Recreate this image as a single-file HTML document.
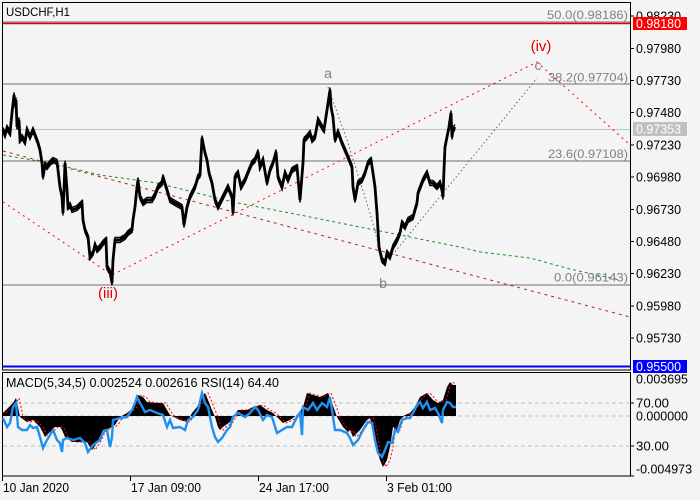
<!DOCTYPE html>
<html><head><meta charset="utf-8"><style>
html,body{margin:0;padding:0;background:#f4f4f4;}
svg{display:block;}
text{font-family:"Liberation Sans",sans-serif;}
</style></head><body>
<svg width="700" height="500" viewBox="0 0 700 500" xmlns="http://www.w3.org/2000/svg">
<defs>
<polyline id="pr" fill="none" stroke-linejoin="miter" points="3,130 5,135 7,128 10,133 12,113 14,95 15,105 16,100 17,127 19,120 20,140 22,137 25,142 27,130 30,137 33,130 35,135 38,143 40,150 42,163 43,177 45,165 47,167 50,163 53,160 57,162 58,170 60,187 62,197 63,213 64,190 65,163 67,190 68,207 70,205 72,210 77,208 80,205 82,203 83,220 85,230 88,237 90,257 93,253 95,245 97,250 100,247 103,243 106,240 107,267 110,272 112,283 113,260 115,240 120,240 125,237 128,233 132,230 133,220 135,207 137,187 138,180 140,197 143,203 147,200 152,200 155,195 158,187 162,183 163,177 167,190 170,200 175,203 182,207 184,225 187,207 190,197 195,187 198,177 200,175 202,138 205,153 207,160 209,173 212,183 215,200 218,207 223,197 228,187 232,197 233,213 235,177 238,173 241,187 245,180 249,170 252,163 255,160 258,152 260,167 263,160 267,183 270,170 273,163 276,152 278,177 282,187 285,173 288,180 292,170 297,167 300,200 303,163 304,140 307,137 310,133 312,140 315,137 318,120 322,127 324,130 327,110 330,90 331,107 333,117 335,140 338,132 342,143 345,150 348,157 352,167 353,187 355,200 358,183 362,180 365,173 368,163 371,160 373,173 375,187 377,213 379,247 382,260 385,263 387,253 390,257 393,247 397,240 400,233 402,223 405,227 408,220 413,217 417,203 418,193 423,180 427,173 430,183 433,183 437,187 440,183 442,190 443,197 444,170 445,147 447,137 449,127 451,113 452,137 453,130 455,127"/>
</defs>
<rect x="0" y="0" width="700" height="500" fill="#f4f4f4"/>
<rect x="2.5" y="2.5" width="628" height="367.5" fill="none" stroke="#000" stroke-width="1"/>
<rect x="2.5" y="372.5" width="628" height="103.5" fill="none" stroke="#000" stroke-width="1"/>

<line x1="3" y1="22" x2="630" y2="22" stroke="#707070" stroke-width="1"/>
<line x1="3" y1="23.5" x2="630" y2="23.5" stroke="#e00000" stroke-width="1.5"/>
<line x1="3" y1="84" x2="630" y2="84" stroke="#707070" stroke-width="1"/>
<line x1="3" y1="129.5" x2="630" y2="129.5" stroke="#c0c0c0" stroke-width="1"/>
<line x1="3" y1="161" x2="630" y2="161" stroke="#707070" stroke-width="1"/>
<line x1="3" y1="285" x2="630" y2="285" stroke="#707070" stroke-width="1"/>
<line x1="3" y1="366.5" x2="630" y2="366.5" stroke="#0000f0" stroke-width="2"/>

<text x="628" y="19" font-size="12" fill="#808080" text-anchor="end" textLength="81" lengthAdjust="spacingAndGlyphs">50.0(0.98186)</text>
<text x="628" y="81.5" font-size="12" fill="#808080" text-anchor="end" textLength="80" lengthAdjust="spacingAndGlyphs">38.2(0.97704)</text>
<text x="628" y="158" font-size="12" fill="#808080" text-anchor="end" textLength="80" lengthAdjust="spacingAndGlyphs">23.6(0.97108)</text>
<text x="628" y="281.5" font-size="12" fill="#808080" text-anchor="end" textLength="74" lengthAdjust="spacingAndGlyphs">0.0(0.96143)</text>

<polyline points="3,202 112,275 537,62 630,145" fill="none" stroke="#ff0000" stroke-width="1" stroke-dasharray="2,4"/>
<line x1="3" y1="151" x2="630" y2="317" stroke="#b22222" stroke-width="1" stroke-dasharray="3,4"/>
<polyline points="3,155 50,163 100,175 157,183 233,202 300,215 310,217 460,247 480,252 530,258 570,269 620,280" fill="none" stroke="#228b22" stroke-width="1" stroke-dasharray="3,3"/>
<polyline points="328,87 347,140 370,213 380,250 385,262" fill="none" stroke="#606060" stroke-width="1" stroke-dasharray="1.5,2.5"/>
<polyline points="390,258 407,237 443,193 480,148 537,78" fill="none" stroke="#606060" stroke-width="1" stroke-dasharray="1.5,2.5"/>

<use href="#pr" stroke="#000" stroke-width="2.8"/>
<use href="#pr" stroke="#000" stroke-width="1.4" transform="translate(0,-2.5)"/>
<use href="#pr" stroke="#000" stroke-width="1.4" transform="translate(0,2.5)"/>

<text x="328" y="78" font-size="14" fill="#808080" text-anchor="middle">a</text>
<text x="383" y="288" font-size="14" fill="#808080" text-anchor="middle">b</text>
<text x="538" y="70" font-size="14" fill="#7080a0" text-anchor="middle">c</text>
<text x="108" y="298" font-size="15" fill="#e00000" text-anchor="middle">(iii)</text>
<text x="541" y="51" font-size="15" fill="#e00000" text-anchor="middle">(iv)</text>

<text x="6" y="16" font-size="12" fill="#000" textLength="64" lengthAdjust="spacingAndGlyphs">USDCHF,H1</text>

<g stroke="#000" stroke-width="1">
<line x1="630" y1="16" x2="634" y2="16"/><line x1="630" y1="48.5" x2="634" y2="48.5"/><line x1="630" y1="80.5" x2="634" y2="80.5"/><line x1="630" y1="112.5" x2="634" y2="112.5"/><line x1="630" y1="145" x2="634" y2="145"/><line x1="630" y1="177" x2="634" y2="177"/><line x1="630" y1="209.5" x2="634" y2="209.5"/><line x1="630" y1="241.5" x2="634" y2="241.5"/><line x1="630" y1="273.5" x2="634" y2="273.5"/><line x1="630" y1="306" x2="634" y2="306"/><line x1="630" y1="338" x2="634" y2="338"/>
<line x1="630" y1="403" x2="634" y2="403"/><line x1="630" y1="446" x2="634" y2="446"/><line x1="630" y1="476" x2="634" y2="476"/>
<line x1="2.5" y1="476" x2="2.5" y2="481"/><line x1="130.5" y1="476" x2="130.5" y2="481"/><line x1="258.5" y1="476" x2="258.5" y2="481"/><line x1="386.5" y1="476" x2="386.5" y2="481"/>
</g>
<g font-size="12.5" fill="#000">
<text x="636" y="20.5" textLength="45" lengthAdjust="spacingAndGlyphs">0.98230</text>
<text x="636" y="53" textLength="45" lengthAdjust="spacingAndGlyphs">0.97980</text>
<text x="636" y="85" textLength="45" lengthAdjust="spacingAndGlyphs">0.97730</text>
<text x="636" y="117" textLength="45" lengthAdjust="spacingAndGlyphs">0.97480</text>
<text x="636" y="149.5" textLength="45" lengthAdjust="spacingAndGlyphs">0.97230</text>
<text x="636" y="181.5" textLength="45" lengthAdjust="spacingAndGlyphs">0.96980</text>
<text x="636" y="214" textLength="45" lengthAdjust="spacingAndGlyphs">0.96730</text>
<text x="636" y="246" textLength="45" lengthAdjust="spacingAndGlyphs">0.96480</text>
<text x="636" y="278" textLength="45" lengthAdjust="spacingAndGlyphs">0.96230</text>
<text x="636" y="310.5" textLength="45" lengthAdjust="spacingAndGlyphs">0.95980</text>
<text x="636" y="342.5" textLength="45" lengthAdjust="spacingAndGlyphs">0.95730</text>
</g>
<rect x="633" y="17" width="54" height="13" fill="#ff0000"/>
<text x="636" y="28" font-size="12.5" fill="#fff" textLength="45" lengthAdjust="spacingAndGlyphs">0.98180</text>
<rect x="633" y="122" width="54" height="14" fill="#c0c0c0"/>
<text x="636" y="133.5" font-size="12.5" fill="#fff" textLength="45" lengthAdjust="spacingAndGlyphs">0.97353</text>
<rect x="633" y="360" width="54" height="13" fill="#0000ff"/>
<text x="636" y="371" font-size="12.5" fill="#fff" textLength="45" lengthAdjust="spacingAndGlyphs">0.95500</text>

<g stroke="#c0c0c0" stroke-width="1" stroke-dasharray="4,3">
<line x1="3" y1="403" x2="630" y2="403"/>
<line x1="3" y1="416" x2="630" y2="416"/>
<line x1="3" y1="446" x2="630" y2="446"/>
</g>
<path fill="#000" fill-rule="nonzero" d="M3,416 L3,413 13,403 16,398 18,407 20,417 27,422 33,420 40,427 45,437 52,430 55,427 60,427 62,430 65,437 72,442 80,442 87,442 92,450 97,443 103,430 110,428 115,425 120,417 127,413 133,408 138,395 143,397 147,402 157,403 163,403 167,410 170,415 180,420 187,422 192,413 197,407 202,397 205,393 208,400 212,410 215,417 218,427 220,430 223,427 230,422 233,417 238,410 247,410 253,407 260,405 267,410 273,413 277,417 283,423 290,420 297,415 303,407 307,393 313,395 320,397 328,393 332,403 337,417 343,427 348,432 350,430 353,437 360,430 367,420 370,418 373,427 377,450 380,460 383,467 387,460 390,447 393,427 397,430 400,420 405,415 410,413 415,407 420,397 427,393 433,400 438,403 443,400 447,387 450,382 453,385 456,385 L456,416 Z"/>
<polyline fill="none" stroke="#ff0000" stroke-width="1" stroke-dasharray="2,2" points="6,413 16,403 19,398 21,407 23,417 30,422 36,420 43,427 48,437 55,430 58,427 63,427 65,430 68,437 75,442 83,442 90,442 95,450 100,443 106,430 113,428 118,425 123,417 130,413 136,408 141,395 146,397 150,402 160,403 166,403 170,410 173,415 183,420 190,422 195,413 200,407 205,397 208,393 211,400 215,410 218,417 221,427 223,430 226,427 233,422 236,417 241,410 250,410 256,407 263,405 270,410 276,413 280,417 286,423 293,420 300,415 306,407 310,393 316,395 323,397 331,393 335,403 340,417 346,427 351,432 353,430 356,437 363,430 370,420 373,418 376,427 380,450 383,460 386,467 390,460 393,447 396,427 400,430 403,420 408,415 413,413 418,407 423,397 430,393 436,400 441,403 446,400 450,387 453,382 456,385"/>
<polyline fill="none" stroke="#2090f0" stroke-width="2.4" stroke-linejoin="miter" points="3,418 7,427 10,423 13,407 16,403 18,427 22,430 27,430 30,425 33,428 37,427 40,437 43,448 47,440 50,435 53,430 57,440 60,443 62,452 63,440 67,438 73,440 80,438 85,443 88,452 93,445 100,440 103,432 107,430 110,447 112,437 113,420 120,418 127,417 132,410 135,403 137,397 140,403 145,412 150,410 157,413 163,415 167,427 170,420 173,428 180,427 185,430 188,420 193,417 198,410 202,393 205,403 208,407 212,427 215,437 218,442 222,438 227,430 230,427 233,417 238,413 245,417 250,413 255,407 258,410 263,420 267,415 272,417 277,433 282,430 287,427 292,427 297,417 300,413 302,435 303,407 308,410 313,403 317,410 322,403 327,407 330,397 333,417 335,430 340,430 347,433 350,438 353,445 358,440 363,430 368,422 372,423 375,440 378,453 382,457 385,450 388,442 392,443 395,430 398,432 402,420 407,418 410,418 413,413 417,405 420,402 423,408 427,402 430,410 435,408 438,413 442,423 443,410 447,402 450,403 453,407 456,407"/>
<text x="6" y="387" font-size="12.5" fill="#000" textLength="273" lengthAdjust="spacingAndGlyphs">MACD(5,34,5) 0.002524 0.002616 RSI(14) 64.40</text>
<g font-size="12.5" fill="#000">
<text x="636" y="383.5" textLength="52" lengthAdjust="spacingAndGlyphs">0.003695</text>
<text x="636" y="407.5" textLength="33" lengthAdjust="spacingAndGlyphs">70.00</text>
<text x="636" y="420.5" textLength="52" lengthAdjust="spacingAndGlyphs">0.000000</text>
<text x="636" y="450.5" textLength="33" lengthAdjust="spacingAndGlyphs">30.00</text>
<text x="636" y="473.5" textLength="56" lengthAdjust="spacingAndGlyphs">-0.004973</text>
</g>
<g font-size="12.5" fill="#000">
<text x="3" y="492" textLength="66" lengthAdjust="spacingAndGlyphs">10 Jan 2020</text>
<text x="131" y="492" textLength="70" lengthAdjust="spacingAndGlyphs">17 Jan 09:00</text>
<text x="259" y="492" textLength="70" lengthAdjust="spacingAndGlyphs">24 Jan 17:00</text>
<text x="387" y="492" textLength="65" lengthAdjust="spacingAndGlyphs">3 Feb 01:00</text>
</g>
</svg>
</body></html>
